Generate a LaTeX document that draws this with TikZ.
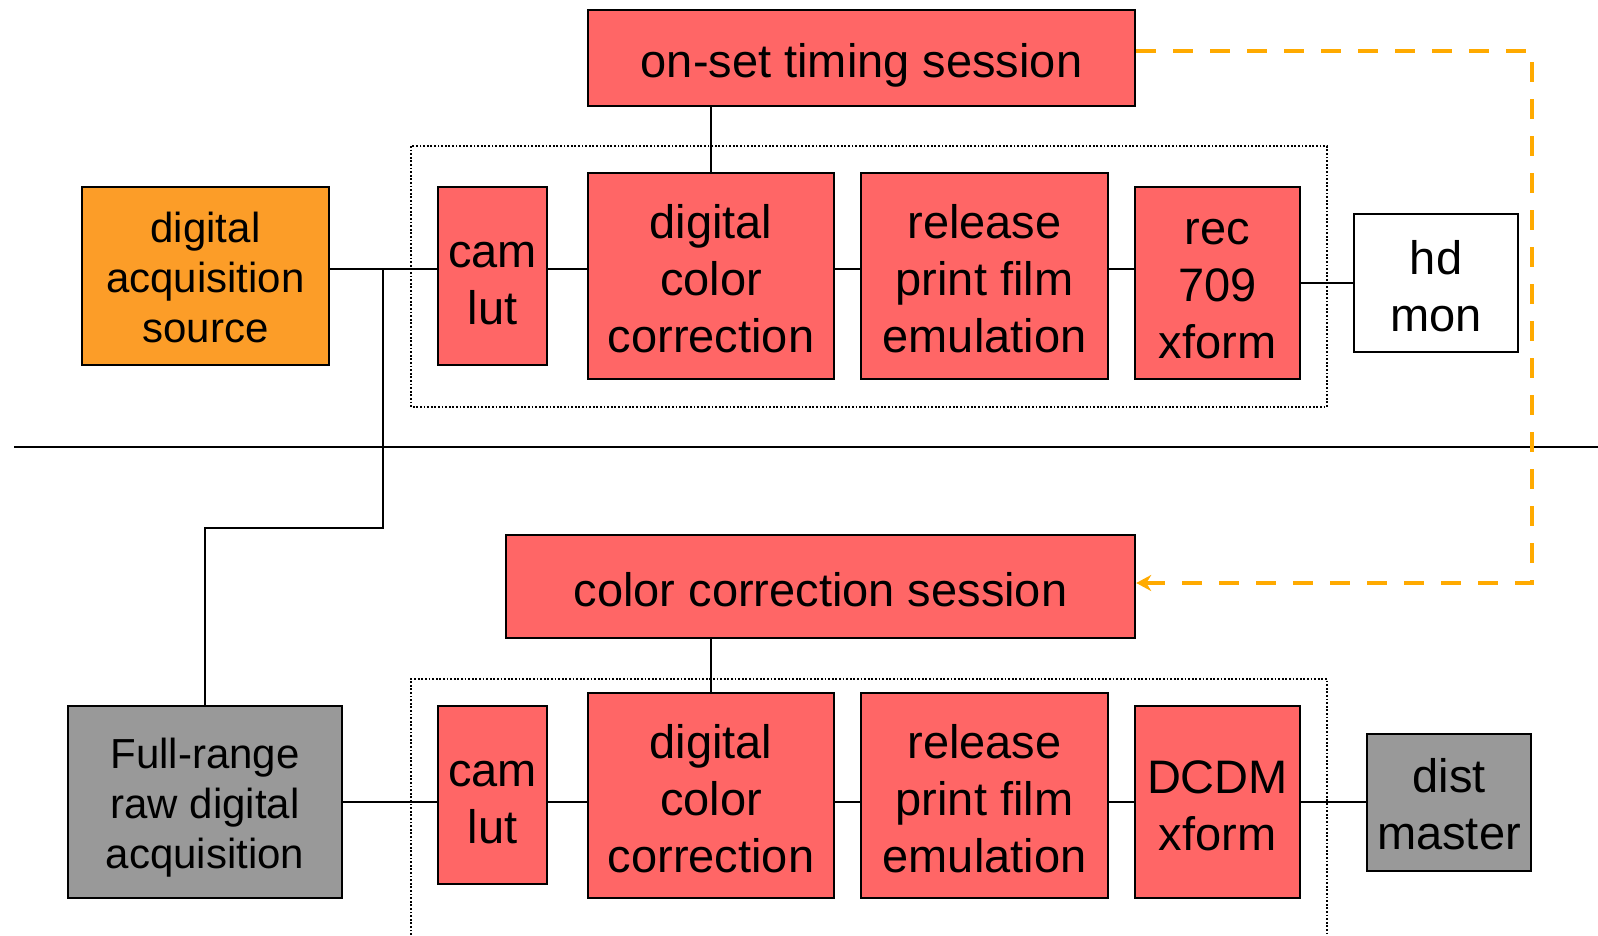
\documentclass[tikz,border=0pt]{standalone}
\usepackage{fontspec}
\setmainfont{Liberation Sans}
\usetikzlibrary{arrows.meta}
\definecolor{boxred}{RGB}{255,102,102}
\definecolor{srcorange}{RGB}{252,157,40}
\definecolor{rawgray}{RGB}{153,153,153}
\definecolor{linkorange}{RGB}{255,170,0}
\newcommand{\mylines}[2][8.5pt]{\raisebox{-#1}[\height][\depth]{\begin{tabular}{@{}c@{}}#2\end{tabular}}}
\begin{document}
\begin{tikzpicture}[x=1pt,y=-1pt,
  box/.style={draw=black, line width=2.4pt, inner sep=0pt, align=center, font=\fontsize{47}{57}\selectfont},
  redbox/.style={box, fill=boxred},
  smalltext/.style={font=\fontsize{42}{50}\selectfont},
  link/.style={line width=2pt, draw=black},
  dotbox/.style={line width=1.8pt, dash pattern=on 1.8pt off 1.8pt},
  orangelink/.style={line width=4pt, draw=linkorange, dash pattern=on 20pt off 17pt, -{Stealth[length=15pt,width=16pt]}}]
\useasboundingbox (0,0) rectangle (1598,935);

% dotted groups
\draw[dotbox] (411,146) rectangle (1327,407);
\draw[dotbox] (411,935) -- (411,679) -- (1327,679) -- (1327,935);

% separator
\coordinate (sepL) at (14,447);
\coordinate (sepR) at (1598,447);
\draw[link] (sepL) -- (sepR);

% top row
\node[redbox, minimum width=547pt, minimum height=96pt] (onset) at (861.5,58) {\mylines{on-set timing session}};
\node[box, smalltext, fill=srcorange, minimum width=247pt, minimum height=178pt] (src) at (205.5,276) {\mylines[6pt]{digital\\acquisition\\source}};
\node[redbox, minimum width=109pt, minimum height=178pt] (cam1) at (492.5,276) {\mylines{cam\\lut}};
\node[redbox, minimum width=246pt, minimum height=206pt] (dcc1) at (711,276) {\mylines{digital\\color\\correction}};
\node[redbox, minimum width=247pt, minimum height=206pt] (rel1) at (984.5,276) {\mylines{release\\print film\\emulation}};
\node[redbox, minimum width=165pt, minimum height=192pt] (rec1) at (1217.5,283) {\mylines[7.5pt]{rec\\709\\xform}};
\node[box, fill=white, minimum width=164pt, minimum height=138pt] (hd) at (1436,283) {\mylines{hd\\mon}};

% bottom row
\node[redbox, minimum width=629pt, minimum height=103pt] (ccs) at (820.5,586.5) {\mylines{color correction session}};
\node[box, smalltext, fill=rawgray, minimum width=274pt, minimum height=192pt] (full) at (205,802) {\mylines[6.5pt]{Full-range\\raw digital\\acquisition}};
\node[redbox, minimum width=109pt, minimum height=178pt] (cam2) at (492.5,795) {\mylines{cam\\lut}};
\node[redbox, minimum width=246pt, minimum height=205pt] (dcc2) at (711,795.5) {\mylines{digital\\color\\correction}};
\node[redbox, minimum width=247pt, minimum height=205pt] (rel2) at (984.5,795.5) {\mylines{release\\print film\\emulation}};
\node[redbox, minimum width=165pt, minimum height=192pt] (dcdm) at (1217.5,802) {\mylines{DCDM\\xform}};
\node[box, fill=rawgray, minimum width=164pt, minimum height=137pt] (dist) at (1449,802.5) {\mylines[7pt]{dist\\master}};

% top connectors
\coordinate (j) at (383,269);
\coordinate (bend) at (383,528);
\draw[link] ([yshift=7pt]src.east) -- ([yshift=7pt]cam1.west);
\draw[link] ([yshift=7pt]cam1.east) -- ([yshift=7pt]dcc1.west);
\draw[link] ([yshift=7pt]dcc1.east) -- ([yshift=7pt]rel1.west);
\draw[link] ([yshift=7pt]rel1.east) -- ([yshift=14pt]rec1.west);
\draw[link] (rec1.east) -- (hd.west);
\draw[link] (onset.south -| dcc1.north) -- (dcc1.north);
\draw[link] (j) -- (bend) -| (full.north);

% bottom connectors
\draw[link] (full.east) -- (cam2.west |- full.east);
\draw[link] (cam2.east |- full.east) -- (dcc2.west |- full.east);
\draw[link] (dcc2.east |- full.east) -- (rel2.west |- full.east);
\draw[link] (rel2.east |- full.east) -- (dcdm.west);
\draw[link] (dcdm.east) -- (dist.west |- dcdm.east);
\draw[link] (ccs.south -| dcc2.north) -- (dcc2.north);

% orange feedback
\coordinate (o1) at (1532,51);
\coordinate (o2) at (1532,583);
\draw[orangelink] ([yshift=7pt]onset.east) -- (o1) -- (o2) -- ([yshift=3.5pt]ccs.east);
\end{tikzpicture}
\end{document}
